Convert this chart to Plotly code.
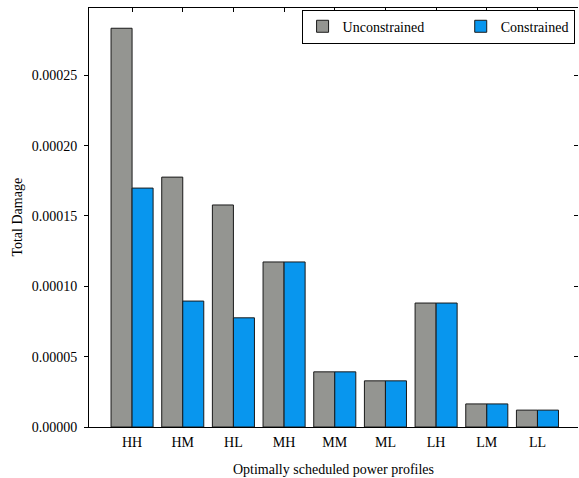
import plotly.graph_objects as go

categories = ["HH", "HM", "HL", "MH", "MM", "ML", "LH", "LM", "LL"]
unconstrained = [0.0002834, 0.0001776, 0.0001578, 0.0001173, 0.0000392, 0.0000328, 0.0000881, 0.0000164, 0.0000120]
constrained = [0.0001698, 0.0000895, 0.0000776, 0.0001173, 0.0000392, 0.0000328, 0.0000881, 0.0000164, 0.0000120]
y_ticks = [0.0, 0.00005, 0.00010, 0.00015, 0.00020, 0.00025]
y_tick_labels = ["0.00000", "0.00005", "0.00010", "0.00015", "0.00020", "0.00025"]
series_names = ["Unconstrained" + "\u00a0" * 9, "Constrained"]
x_title = "Optimally scheduled power profiles"
y_title = "Total Damage"

FONT = "Liberation Serif"
FS = 14
GRAY = "#949591"
BLUE = "#0896ee"
EDGE = "#1a1a1a"

fig = go.Figure()
fig.add_trace(go.Bar(x=categories, y=unconstrained, name=series_names[0],
                     marker=dict(color=GRAY, line=dict(color=EDGE, width=1))))
fig.add_trace(go.Bar(x=categories, y=constrained, name=series_names[1],
                     marker=dict(color=BLUE, line=dict(color=EDGE, width=1))))
# invisible trace to drive top and right axes
fig.add_trace(go.Scatter(x=categories, y=unconstrained, xaxis="x2", yaxis="y2",
                         mode="markers", marker=dict(opacity=0), showlegend=False,
                         hoverinfo="skip"))

yr = [0, 0.0002978]
xr = [-0.85, 8.8]

fig.update_layout(
    width=579, height=478,
    margin=dict(l=89, r=1, t=8, b=51),
    paper_bgcolor="white", plot_bgcolor="white",
    barmode="group", bargap=0.17, bargroupgap=0,
    font=dict(family=FONT, size=FS, color="black"),
    xaxis=dict(range=xr, showline=True, linecolor="black", linewidth=1,
               ticks="", showgrid=False, zeroline=False, automargin=False,
               tickfont=dict(family=FONT, size=FS), ticklabelstandoff=2,
               title=dict(text=x_title, font=dict(family=FONT, size=FS))),
    yaxis=dict(range=yr, showline=True, linecolor="black", linewidth=1,
               ticks="outside", ticklen=4, tickcolor="black",
               tickvals=y_ticks, ticktext=y_tick_labels,
               showgrid=False, zeroline=False, automargin=False,
               tickfont=dict(family=FONT, size=FS), ticklabelstandoff=4),
    xaxis2=dict(overlaying="x", side="top", range=xr, showline=True,
                linecolor="black", linewidth=1, ticks="inside", ticklen=4,
                tickcolor="black", showticklabels=False, showgrid=False,
                zeroline=False, anchor="y", automargin=False),
    yaxis2=dict(overlaying="y", side="right", range=yr, showline=False,
                ticks="inside", ticklen=4, tickcolor="black",
                tickvals=y_ticks, showticklabels=False, showgrid=False,
                zeroline=False, anchor="x", automargin=False),
    legend=dict(orientation="h", x=0.993, xanchor="right", y=0.996, yanchor="top",
                bordercolor="black", borderwidth=1, bgcolor="white",
                font=dict(family=FONT, size=FS), itemwidth=30,
                traceorder="normal"),
    showlegend=True,
    annotations=[dict(text=y_title, xref="paper", yref="paper",
                      x=-0.147, y=0.5, xanchor="center", yanchor="middle",
                      textangle=-90, showarrow=False,
                      font=dict(family=FONT, size=FS))],
)

fig.write_html("out.html",
               config={"displayModeBar": False},
               post_script="document.body.style.margin='0';"
                           "document.documentElement.style.overflow='hidden';"
                           "document.body.style.overflow='hidden';")
